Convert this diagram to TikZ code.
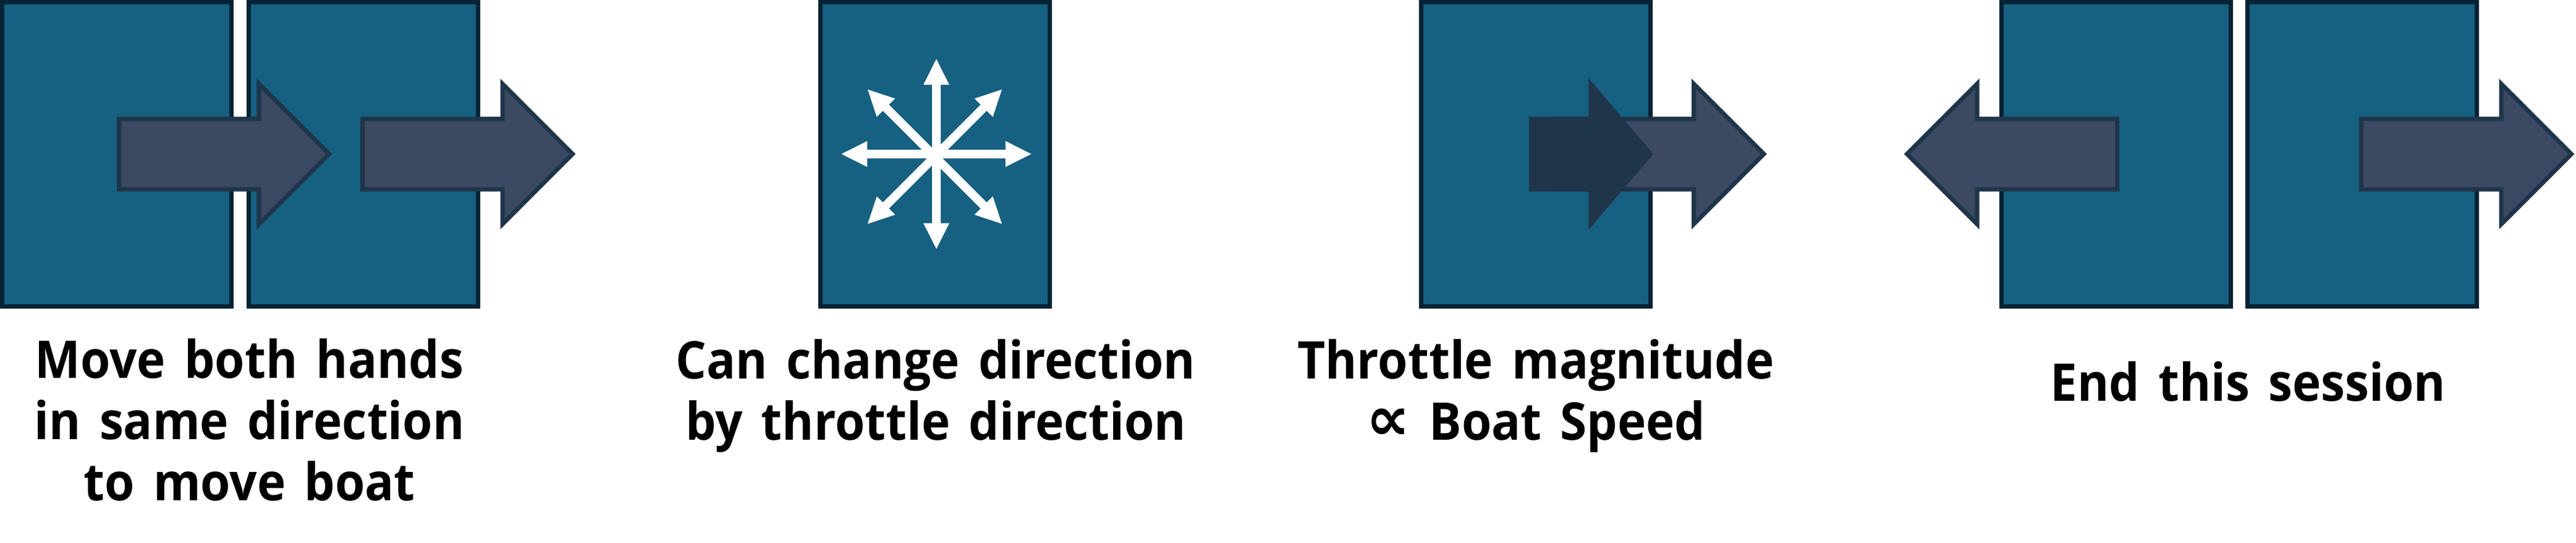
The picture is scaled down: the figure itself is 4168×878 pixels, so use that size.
\documentclass[tikz,border=0pt]{standalone}
\usepackage{fontspec}
\setmainfont{Open Sans}[FakeStretch=0.93,WordSpace=1.5]
\newfontfamily\symfont{DejaVu Sans}
\usetikzlibrary{shapes.arrows}
\definecolor{col1}{RGB}{22,96,130}
\definecolor{col2}{RGB}{5,35,53}
\definecolor{col3}{RGB}{59,73,98}
\definecolor{col4}{RGB}{31,53,74}

\begin{document}
\begin{tikzpicture}[x=1pt, y=-1pt, every node/.style={inner sep=0pt, outer sep=0pt},
    panel/.style={rectangle, draw=col2, fill=col1, line width=7pt, minimum width=371pt, minimum height=492pt},
    movearrow/.style={single arrow, draw=col4, fill=col3, line width=7pt, anchor=tail, minimum height=340pt,
      inner ysep=53.5pt, single arrow head extend=56.5pt},
    pressarrow/.style={single arrow, fill=col4, anchor=tail, minimum height=201pt,
      inner ysep=60.3pt, single arrow head extend=62pt, single arrow tip angle=99},
    stararrow/.style={single arrow, fill=white, anchor=tail, minimum height=153.5pt,
      inner ysep=6.8pt, single arrow head extend=14pt, single arrow tip angle=53.5},
    caption/.style={align=center, anchor=base, font=\fontsize{84}{99}\selectfont\bfseries}]
    \useasboundingbox (0,0) rectangle (4168,878);

    % both hands
    \node[panel] (panel1) at (189,249.5) {};
    \node[panel] (panel2) at (587.5,249.5) {};
    \node[movearrow] (arrow1) at (192.5,249) {};
    \node[movearrow] (arrow2) at (586.5,249) {};
    \node[caption] (label1) at (403.5,809) {Move both hands\\in same direction\\to move boat};

    % one hand, eight directions
    \node[panel] (panel3) at (1512.5,249.5) {};
    \coordinate (star) at (1515,249);
    \coordinate (diag) at (1512.5,253.3);
    \foreach \ang in {0,90,180,270}
      \node[stararrow, rotate=\ang] (dir\ang) at (star) {};
    \foreach \ang in {45,135,225,315}
      \node[stararrow, rotate=\ang] (dir\ang) at (diag) {};
    \node[caption] (label2) at (1514,711) {Can change direction\\by throttle direction};

    % throttle
    \node[panel] (panel4) at (2485,249.5) {};
    \node[movearrow] (arrow3) at (2514,249) {};
    \node[pressarrow] (arrow4) at (2474,249) {};
    \node[caption] (label3) at (2485,711) {Throttle magnitude\\{\symfont\fontsize{100}{99}\selectfont ∝} Boat Speed};

    % hands apart
    \node[panel] (panel5) at (3424,249.5) {};
    \node[panel] (panel6) at (3822,249.5) {};
    \node[movearrow, rotate=180] (arrow5) at (3425.5,249) {};
    \node[movearrow] (arrow6) at (3820.5,249) {};
    \node[caption] (label4) at (3637,648.7) {End this session};
\end{tikzpicture}
\end{document}
